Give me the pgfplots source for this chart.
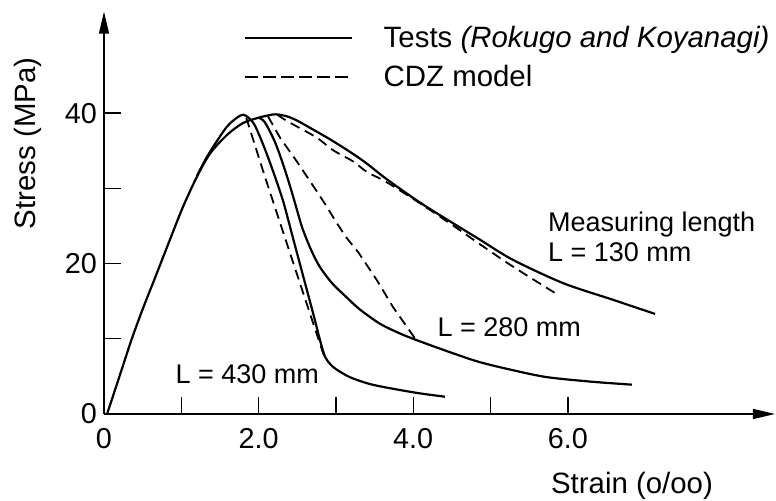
\documentclass[border=0pt]{standalone}
\usepackage{fontspec}
\setmainfont{Liberation Sans}
\usepackage{pgfplots}
\pgfplotsset{compat=1.18}
\usetikzlibrary{arrows.meta}
\begin{document}
\begin{tikzpicture}
\begin{axis}[
  x=38.65pt, y=3.76pt,
  xmin=0, xmax=8.68, ymin=0, ymax=53.5,
  axis lines=left,
  axis line style={line width=0.7pt, -{Triangle[length=11pt,width=5pt]}},
  tick align=inside, major tick length=8.5pt,
  xtick={0,1,2,3,4,5,6}, xticklabels={0,,2.0,,4.0,,6.0},
  ytick={0,10,20,30,40}, yticklabels={0,,20,,40},
  tick style={line width=0.7pt, black},
  ticklabel style={font=\fontsize{14.4}{16}\selectfont},
  xticklabel style={yshift=-3.5pt},
  /pgf/number format/assume math mode=true,
  clip=false,
  legend cell align=left,
  legend image code/.code={\draw[#1] (0pt,0pt) -- (53.5pt,0pt);},
  legend style={draw=none, fill=none, at={(axis cs:1.80,51.9)}, anchor=north west,
    inner sep=0pt, row sep=5.3pt, column sep=14.5pt,
    font=\fontsize{14.7}{17}\selectfont, nodes={inner sep=1pt}},
]
\addlegendimage{black, line width=1.1pt}
\addlegendentry{Tests \textit{(Rokugo and Koyanagi)}}
\addlegendimage{black, line width=0.9pt, dash pattern=on 6.5pt off 2.5pt}
\addlegendentry{CDZ model}

% Test L = 130 mm (common ascending branch)
\addplot[black, line width=1.1pt, smooth, forget plot] coordinates {
(0.04,0) (0.20,5) (0.36,10) (0.51,14.2) (0.66,18.1) (0.85,23.1) (1.02,27.5)
(1.20,31.5) (1.37,34.6) (1.59,37.1) (1.80,38.7) (2.00,39.4) (2.12,39.7)
(2.22,39.85) (2.36,39.6) (2.50,39.0) (2.76,37.5)
(2.96,36.3) (3.22,34.6) (3.40,33.3) (3.66,31.2) (4.09,28.1) (4.51,25.4)
(4.86,23.2) (5.29,20.5) (5.94,17.4) (6.58,15.2) (7.13,13.3)};

% Test L = 280 mm
\addplot[black, line width=1.1pt, smooth, forget plot] coordinates {
(2.00,39.4) (2.08,38.8) (2.21,36.2) (2.32,33.1) (2.43,29.5) (2.50,27.0)
(2.57,24.6) (2.68,21.8) (2.79,19.6) (2.95,17.4) (3.14,15.5) (3.31,13.9)
(3.57,12.0) (3.83,10.7) (4.05,9.8) (4.48,8.2) (4.86,6.9) (5.30,5.8)
(5.73,4.9) (6.30,4.3) (6.83,3.9)};

% Test L = 430 mm
\addplot[black, line width=1.1pt, smooth, forget plot] coordinates {
(1.20,31.6) (1.30,33.6) (1.41,35.5) (1.59,38.2) (1.72,39.4) (1.80,39.8)
(1.87,39.4) (1.95,38.4) (2.06,35.8) (2.19,32.2) (2.32,28.2)
(2.45,23.2) (2.58,18.2) (2.71,13.2) (2.80,9.6) (2.86,7.6)
(2.93,6.6) (3.01,5.9) (3.18,4.9) (3.40,4.1) (3.61,3.6) (4.05,2.8) (4.41,2.3)};

% CDZ model L = 130 mm
\addplot[black, line width=0.9pt, dash pattern=on 5pt off 3pt, smooth, forget plot] coordinates {
(2.24,39.8) (2.36,39.0) (2.50,38.2) (2.76,36.7) (2.96,35.1) (3.22,33.6)
(3.40,32.2) (3.66,30.8) (4.09,28.0) (4.51,25.1) (4.86,22.6) (5.29,19.6) (5.88,15.8)};

% CDZ model L = 280 mm
\addplot[black, line width=0.9pt, dash pattern=on 5pt off 3pt, forget plot] coordinates {
(2.12,39.6) (2.28,36.7) (2.50,33.5) (2.76,29.5) (2.88,27.6)
(3.01,25.4) (3.14,23.4) (3.29,21.5) (3.53,17.8) (3.74,14.2) (4.02,10.1)};

% CDZ model L = 430 mm
\addplot[black, line width=0.9pt, dash pattern=on 5pt off 3pt, forget plot] coordinates {
(1.84,39.4) (2.08,31.6) (2.56,16.6) (2.85,7.6)};

\node[anchor=west, inner sep=0pt, align=left, font=\fontsize{13.5}{15}\selectfont]
  at (axis cs:5.74,23.5) {Measuring length\\L = 130 mm};
\node[anchor=west, inner sep=0pt, font=\fontsize{13.5}{15}\selectfont]
  at (axis cs:4.31,11.6) {L = 280 mm};
\node[anchor=west, inner sep=0pt, font=\fontsize{13.5}{15}\selectfont]
  at (axis cs:0.92,5.3) {L = 430 mm};
\node[rotate=90, font=\fontsize{14.7}{17}\selectfont] at (axis cs:-0.98,36.0) {Stress (MPa)};
\node[font=\fontsize{14.7}{17}\selectfont] at (axis cs:6.83,-9.6) {Strain (o/oo)};
\end{axis}
\pgfresetboundingbox
\useasboundingbox (-52pt,-43.5pt) rectangle (336pt,207pt);
\end{tikzpicture}
\end{document}
